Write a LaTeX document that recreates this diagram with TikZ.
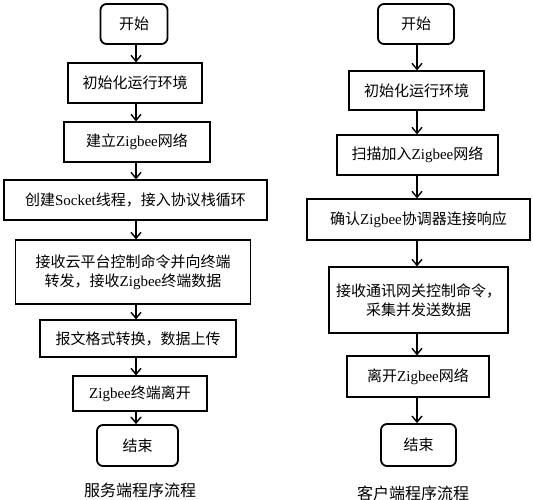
\documentclass[tikz,border=0pt]{standalone}
\usepackage{fontspec}
\setmainfont{Liberation Serif}
\newfontfamily\cjk{Noto Sans CJK SC}
\usetikzlibrary{arrows.meta}
\tikzset{
    process/.style={draw=black, line width=1.2pt, rectangle, align=center, inner sep=0pt,
        font=\fontsize{15}{19}\selectfont},
    terminal/.style={process, rounded corners=6pt, line width=1.8pt},
    flow/.style={draw=black, line width=1.4pt, -{Straight Barb[length=6pt,width=10pt]}},
    caption/.style={font=\fontsize{16}{20}\selectfont}
}

\begin{document}
\begin{tikzpicture}[x=1pt,y=-1pt]
	\useasboundingbox (0,0) rectangle (533,500);
	% server side
	\node[terminal, minimum width=67pt, minimum height=40pt] (lstart) at (134,24) {\cjk 开始};
	\node[process, minimum width=134pt, minimum height=40pt] (linit) at (135,83) {\cjk 初始化运行环境};
	\node[process, minimum width=146pt, minimum height=40pt] (lnet) at (137,142) {{\cjk 建立}Zigbee{\cjk 网络}};
	\node[process, minimum width=263pt, minimum height=40pt] (lsock) at (135.5,200) {{\cjk 创建}Socket{\cjk 线程，接入协议栈循环}};
	\node[process, minimum width=235pt, minimum height=64pt] (lrecv) at (133,272) {{\cjk 接收云平台控制命令并向终端}\\{\cjk 转发，接收}Zigbee{\cjk 终端数据}};
	\node[process, minimum width=196pt, minimum height=37pt] (lconv) at (138,338.5) {\cjk 报文格式转换，数据上传};
	\node[process, minimum width=134pt, minimum height=35pt] (lleave) at (140,393.5) {Zigbee{\cjk 终端离开}};
	\node[terminal, minimum width=81pt, minimum height=41pt] (lend) at (137.5,445.5) {\cjk 结束};
	\node[caption] (lcap) at (140,490) {\cjk 服务端程序流程};
	\foreach \a/\b in {lstart/linit, linit/lnet, lnet/lsock, lsock/lrecv, lrecv/lconv, lconv/lleave, lleave/lend}
		\draw[flow] (\a.south -| 136,0) -- (\b.north -| 136,0);
	% client side
	\node[terminal, minimum width=76pt, minimum height=40pt] (rstart) at (416,24) {\cjk 开始};
	\node[process, minimum width=135pt, minimum height=39pt] (rinit) at (416.5,90.5) {\cjk 初始化运行环境};
	\node[process, minimum width=161pt, minimum height=40pt] (rnet) at (417.5,155) {{\cjk 扫描加入}Zigbee{\cjk 网络}};
	\node[process, minimum width=223pt, minimum height=41pt] (rack) at (418.5,219.5) {{\cjk 确认}Zigbee{\cjk 协调器连接响应}};
	\node[process, minimum width=179pt, minimum height=66pt] (rrecv) at (418.5,300) {{\cjk 接收通讯网关控制命令，}\\{\cjk 采集并发送数据}};
	\node[process, minimum width=142pt, minimum height=41pt] (rleave) at (418,376.5) {{\cjk 离开}Zigbee{\cjk 网络}};
	\node[terminal, minimum width=75pt, minimum height=42pt] (rend) at (418.5,445) {\cjk 结束};
	\node[caption] (rcap) at (413,493) {\cjk 客户端程序流程};
	\foreach \a/\b in {rstart/rinit, rinit/rnet, rnet/rack, rack/rrecv, rrecv/rleave, rleave/rend}
		\draw[flow] (\a.south -| 417,0) -- (\b.north -| 417,0);
\end{tikzpicture}
\end{document}
